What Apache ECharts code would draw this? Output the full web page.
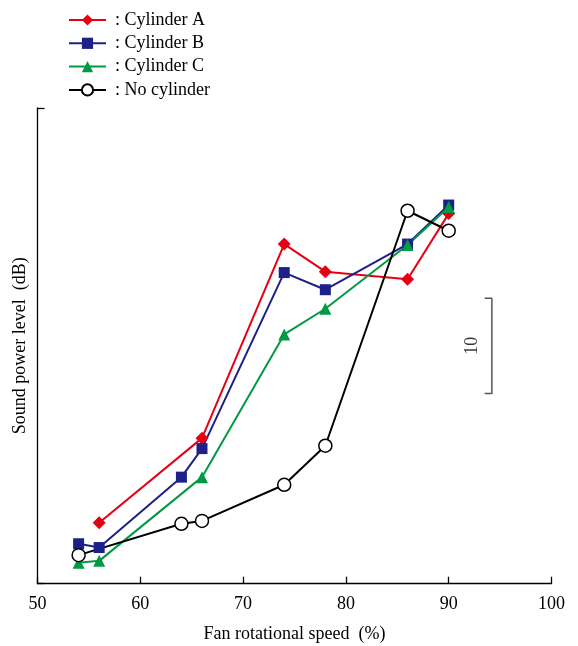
<!DOCTYPE html>
<html>
<head>
<meta charset="utf-8">
<script src="https://cdn.jsdelivr.net/npm/echarts@6/dist/echarts.min.js"></script>
<style>
  html, body { margin: 0; padding: 0; background: #fff; }
  #chart { width: 578px; height: 646px; }
</style>
</head>
<body>
<div id="chart"></div>
<script>
// Fan rotational speed (%) and sound power level (dB) per configuration
const speedA = [56, 66, 74, 78, 86, 90];
const levelA = [46.4, 55.3, 75.7, 72.8, 72.0, 78.9];

const speedB = [54, 56, 64, 66, 74, 78, 86, 90];
const levelB = [44.2, 43.8, 51.2, 54.2, 72.7, 70.9, 75.7, 79.8];

const speedC = [54, 56, 66, 74, 78, 86, 90];
const levelC = [42.2, 42.4, 51.2, 66.2, 68.9, 75.6, 79.6];

const speedN = [54, 64, 66, 74, 78, 86, 90];
const levelN = [43.0, 46.3, 46.6, 50.4, 54.5, 79.2, 77.1];

const seriesNames = ['Cylinder A', 'Cylinder B', 'Cylinder C', 'No cylinder'];
const xTicks = [50, 60, 70, 80, 90, 100];

// 10 dB scale bracket
const scaleBarX = [93.5, 94.2, 94.2, 93.5];
const scaleBarY = [70, 70, 60, 60];
const scaleLabel = '10';

const pairs = (xs, ys) => xs.map((x, i) => [x, ys[i]]);
const FONT = '"Liberation Serif", "DejaVu Serif", serif';
const FS = 18;

const chart = echarts.init(document.getElementById('chart'));

function lineSeries(name, xs, ys, color, symbol, size, fill) {
  return {
    name: name,
    type: 'line',
    data: pairs(xs, ys),
    symbol: symbol,
    symbolSize: size,
    showAllSymbol: true,
    lineStyle: { color: color, width: 2 },
    itemStyle: { color: fill || color, borderColor: color, borderWidth: fill ? 1.5 : 0 },
    emphasis: { disabled: true },
    z: 3
  };
}

chart.setOption({
  animation: false,
  textStyle: { fontFamily: FONT },
  grid: {
    left: 37.5, right: 26.5, top: 108, bottom: 62.3,
    containLabel: false,
    outerBoundsMode: 'none'
  },
  legend: {
    data: seriesNames,
    orient: 'vertical',
    left: 63,
    top: 6,
    padding: 5,
    itemWidth: 37,
    itemHeight: 14,
    itemGap: 5.3,
    formatter: n => ': ' + n,
    textStyle: { fontFamily: FONT, fontSize: FS, color: '#000', padding: [0, 0, 0, 4] }
  },
  xAxis: {
    type: 'value',
    min: xTicks[0],
    max: xTicks[xTicks.length - 1],
    interval: 10,
    name: 'Fan rotational speed  (%)',
    nameLocation: 'middle',
    nameGap: 42,
    nameTextStyle: { fontFamily: FONT, fontSize: FS, color: '#000' },
    axisLine: { lineStyle: { color: '#000', width: 1.3 } },
    axisTick: { inside: true, length: 7, lineStyle: { color: '#000', width: 1.3 } },
    axisLabel: { fontFamily: FONT, fontSize: FS, color: '#000', margin: 12 },
    splitLine: { show: false }
  },
  yAxis: {
    type: 'value',
    min: 40,
    max: 90,
    interval: 50,
    name: 'Sound power level  (dB)',
    nameLocation: 'middle',
    nameGap: 8,
    nameTextStyle: { fontFamily: FONT, fontSize: FS, color: '#000' },
    axisLine: { show: true, lineStyle: { color: '#000', width: 1.3 } },
    axisTick: { show: true, inside: true, length: 7, lineStyle: { color: '#000', width: 1.3 } },
    axisLabel: { show: false },
    splitLine: { show: false }
  },
  series: [
    lineSeries('Cylinder A', speedA, levelA, '#e60012', 'diamond', 13),
    lineSeries('Cylinder B', speedB, levelB, '#1d2088', 'rect', 11),
    lineSeries('Cylinder C', speedC, levelC, '#009944', 'triangle', 12),
    lineSeries('No cylinder', speedN, levelN, '#000000', 'circle', 13, '#ffffff'),
    {
      name: 'scale',
      type: 'line',
      data: pairs(scaleBarX, scaleBarY),
      symbol: 'none',
      lineStyle: { color: '#555', width: 1.5 },
      emphasis: { disabled: true },
      silent: true
    },
    {
      name: 'scaleText',
      type: 'scatter',
      data: [[92.3, (scaleBarY[0] + scaleBarY[2]) / 2]],
      symbolSize: 0,
      silent: true,
      label: {
        show: true,
        formatter: scaleLabel,
        rotate: 90,
        position: 'inside',
        fontFamily: FONT,
        fontSize: FS,
        color: '#000'
      }
    }
  ]
});
</script>
</body>
</html>
